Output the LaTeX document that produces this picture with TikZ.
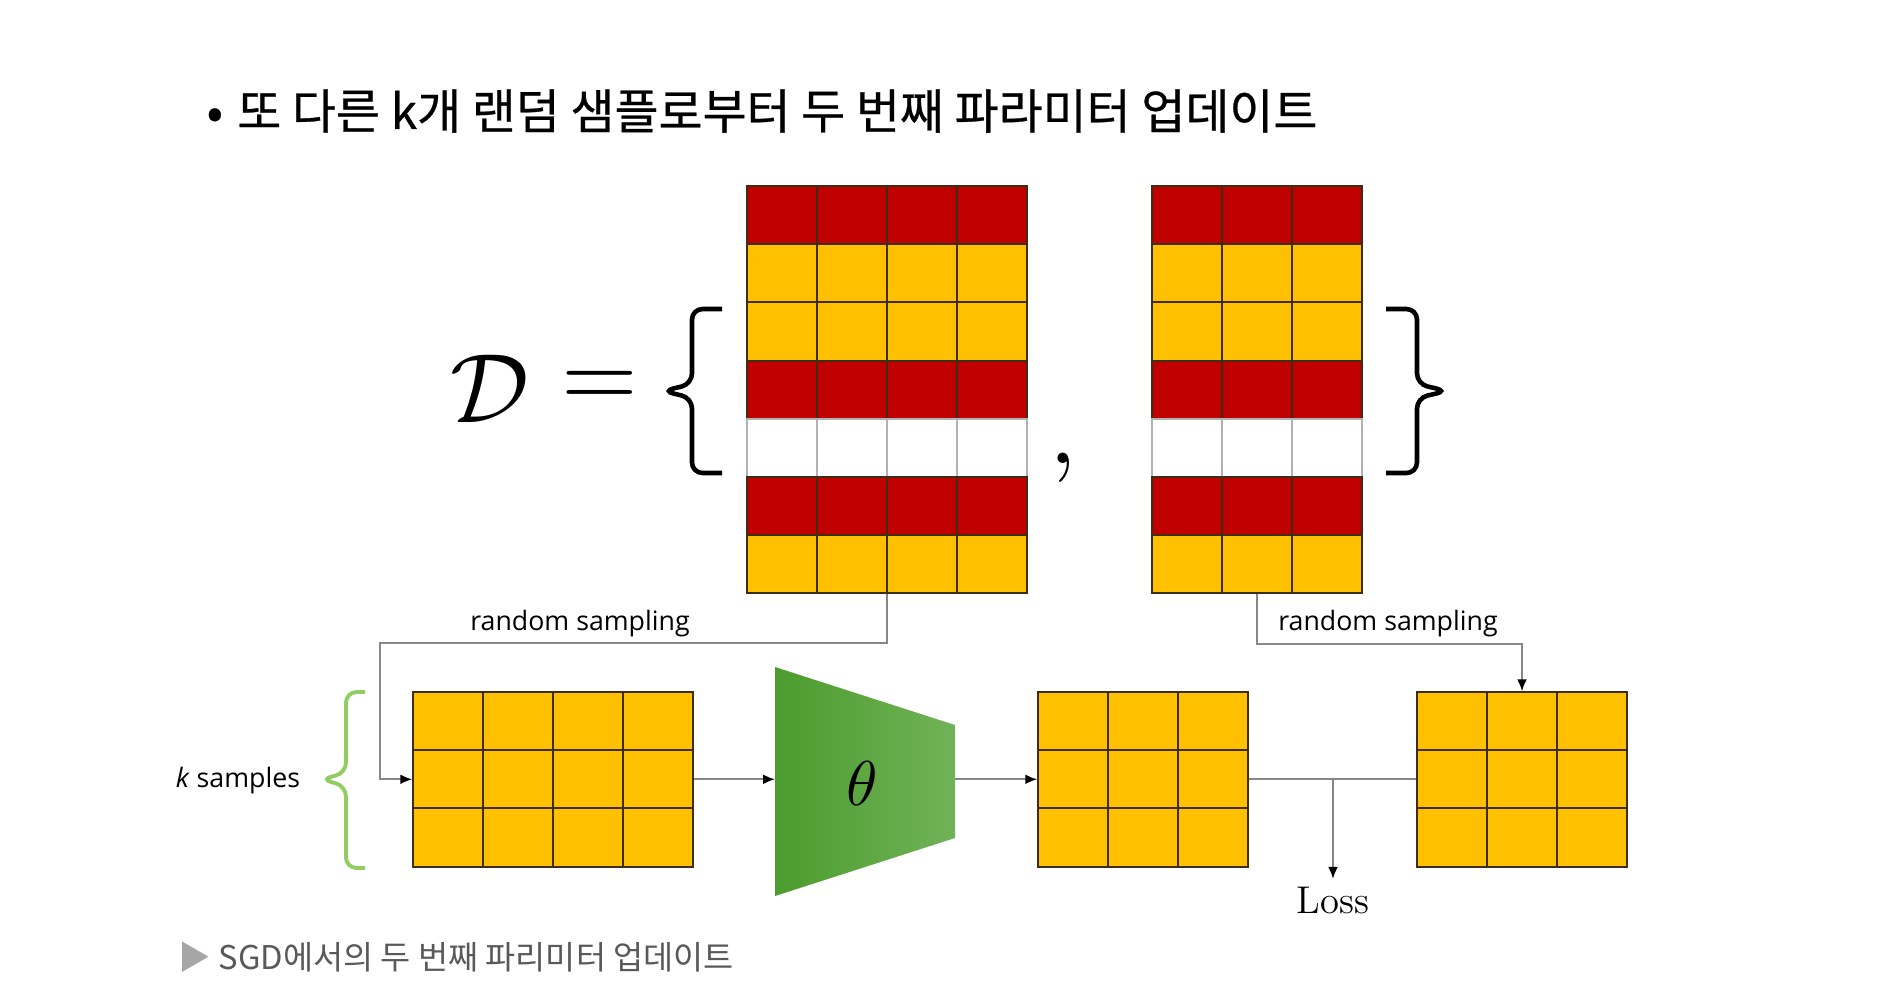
\documentclass[tikz,border=0pt]{standalone}
\usepackage{graphicx}
\usepackage{fontspec}
\newfontfamily\krfont{Noto Sans CJK KR}
\newfontfamily\krhead{Noto Sans CJK KR}[FakeBold=0.6]
\newfontfamily\labelfont{Open Sans}
\usetikzlibrary{arrows.meta}
\definecolor{cellred}{RGB}{192,0,0}
\definecolor{cellyel}{RGB}{255,192,0}
\definecolor{cellline}{RGB}{60,45,20}
\definecolor{flowgray}{RGB}{135,135,135}
\definecolor{thdark}{RGB}{76,156,46}
\definecolor{thlight}{RGB}{112,178,88}
\definecolor{bracegreen}{RGB}{146,205,100}
\tikzset{
  cell/.style={draw=cellline, line width=0.6pt},
  blankcell/.style={draw=gray!60, line width=0.5pt},
  flow/.style={draw=flowgray, line width=0.5pt},
  tip/.style={-{Latex[length=3.4pt,width=2.8pt,color=black]}},
  sample/.style={font=\labelfont\fontsize{7.6}{9}\selectfont, inner sep=0pt},
  setbrace/.style={line width=1.3pt, rounded corners=3pt},
  box/.style={inner sep=0pt, minimum width=#1},
}
\begin{document}
\begin{tikzpicture}[x=0.01cm,y=-0.01cm]
\useasboundingbox (0,0) rectangle (1878,999);
\fill[white] (0,0) rectangle (1878,999);

% heading
\node (title) [anchor=west, inner sep=0pt, font=\krhead\fontsize{13.6}{16}\selectfont] at (206,111)
  {•\hspace{0.3em}또 다른 k개 랜덤 샘플로부터 두 번째 파라미터 업데이트};

% data set D = { A , B }
\node (calD) at (490,389) {\scalebox{2.8}{$\mathcal{D}$}};
\node (eq) at (600,389) {\scalebox{2.8}{$=$}};
\draw[setbrace] (722,309) -- (692,309) -- (692,384) -- (663,391) -- (692,398) -- (692,473) -- (722,473);
\draw[setbrace] (1386,309) -- (1417,309) -- (1417,384) -- (1447,391) -- (1417,398) -- (1417,473) -- (1386,473);
\node (comma) at (1063,468) {\scalebox{2.8}{$,$}};

\node (dsA) [box=2.8cm, minimum height=4.074cm] at (887,389.7) {};
\node (dsB) [box=2.1cm, minimum height=4.074cm] at (1257,389.7) {};
\foreach \c/\e [count=\r from 0] in {cellred/cell,cellyel/cell,cellyel/cell,cellred/cell,white/blankcell,cellred/cell,cellyel/cell} {
  \foreach \k in {0,...,3}
    \draw[\e, fill=\c] (747+\k*70,186+\r*58.2) rectangle ++(70,58.2);
  \foreach \k in {0,...,2}
    \draw[\e, fill=\c] (1152+\k*70,186+\r*58.2) rectangle ++(70,58.2);
}

% k samples, model, prediction, target
\node (inp) [box=2.8cm, minimum height=1.746cm] at (553,779.3) {};
\node (outp) [box=2.1cm, minimum height=1.746cm] at (1143,779.3) {};
\node (tgt) [box=2.1cm, minimum height=1.746cm] at (1522,779.3) {};
\foreach \r in {0,...,2} {
  \foreach \k in {0,...,3}
    \draw[cell, fill=cellyel] (413+\k*70,692+\r*58.2) rectangle ++(70,58.2);
  \foreach \k in {0,...,2} {
    \draw[cell, fill=cellyel] (1038+\k*70,692+\r*58.2) rectangle ++(70,58.2);
    \draw[cell, fill=cellyel] (1417+\k*70,692+\r*58.2) rectangle ++(70,58.2);
  }
}

\shade[left color=thdark, right color=thlight] (775,667) -- (955,725) -- (955,838) -- (775,896) -- cycle;
\node (theta) at (862,784) {\scalebox{1.8}{$\theta$}};
\coordinate (thin) at (775,779.3);
\coordinate (thout) at (955,779.3);

\draw[setbrace, draw=bracegreen, line width=1.1pt] (365,692) -- (346,692) -- (346,773) -- (321,779.3) -- (346,786) -- (346,868) -- (365,868);
\node (ksmp) [sample] at (238,781) {\textit{k} samples};

% connectors
\coordinate (jA) at (380,643);
\draw[flow,tip] (dsA.south) |- (jA) |- (inp.west);
\node (rsA) [sample] at (580,624) {random sampling};
\draw[flow,tip] (dsB.south) -- ++(0,50) -| (tgt.north);
\node (rsB) [sample] at (1388,624) {random sampling};

\draw[flow,tip] (inp.east) -- (thin);
\draw[flow,tip] (thout) -- (outp.west);
\draw[flow] (outp.east) -- (tgt.west);
\coordinate (lossj) at (1333,779.3);
\node (loss) [inner sep=2pt, font=\fontsize{11}{13}\selectfont] at (1333,900) {Loss};
\draw[flow,tip] (lossj) -- (loss.north);

% caption
\node (caption) [anchor=west, inner sep=0pt, text=black!65, font=\krfont\fontsize{9.3}{11}\selectfont] at (178,957)
  {{\color{gray!70}▶} SGD에서의 두 번째 파리미터 업데이트};
\end{tikzpicture}
\end{document}
